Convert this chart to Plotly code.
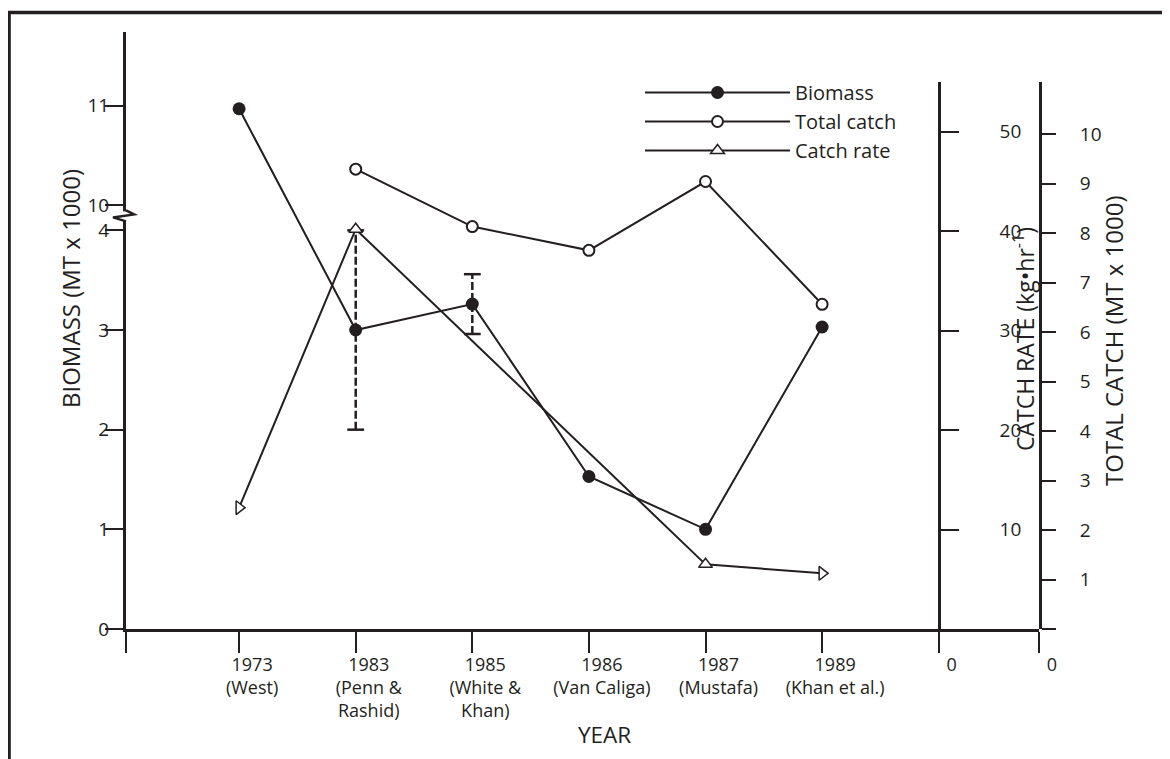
import plotly.graph_objects as go

# ---------------- data ----------------
years = ["1973<br>(West)", "1983<br>(Penn &<br>Rashid)", "1985<br>(White &<br>Khan)",
         "1986<br>(Van Caliga)", "1987<br>(Mustafa)", "1989<br>(Khan et al.)"]
biomass = [10.97, 3.0, 3.26, 1.53, 1.0, 3.03]          # MT x 1000
biomass_err = [None, 1.0, 0.3, None, None, None]       # +/- range
total_catch = [None, 9.29, 8.13, 7.65, 9.04, 6.56]     # MT x 1000
catch_rate = [12.2, 40.2, None, None, 6.5, 5.6]        # kg/hr

biomass_ticks = [0, 1, 2, 3, 4, 10, 11]
catch_rate_ticks = [10, 20, 30, 40, 50]
total_catch_ticks = list(range(0, 11))
total_catch_ticktext = [""] + [str(t) for t in range(1, 11)]

# broken biomass axis: values >= 10 are drawn shifted down
BREAK_AT = 10
BREAK_SHIFT = 5.75
def bio_y(v):
    return v - BREAK_SHIFT if v >= BREAK_AT else v

# ---------------- style ----------------
INK = "#231f20"
FONT = "Open Sans"

xs = list(range(1, len(years) + 1))
X0, X1 = 0.03, 7.86
CR_AXIS_X = 7.0

fig = go.Figure()

# error bars (dashed)
for x, v, e in zip(xs, biomass, biomass_err):
    if e is None:
        continue
    fig.add_trace(go.Scatter(
        x=[x, x], y=[bio_y(v - e), bio_y(v + e)], mode="lines+markers",
        line=dict(color=INK, width=2.5, dash="8px,3px"),
        marker=dict(symbol="line-ew-open", size=12, line=dict(color=INK, width=2.5)),
        showlegend=False, hoverinfo="skip"))

fig.add_trace(go.Scatter(
    x=xs, y=[bio_y(v) for v in biomass], name="Biomass", mode="lines+markers",
    line=dict(color=INK, width=2),
    marker=dict(symbol="circle", size=13, color=INK)))

fig.add_trace(go.Scatter(
    x=xs, y=total_catch, name="Total catch", mode="lines+markers", yaxis="y3",
    connectgaps=True, line=dict(color=INK, width=2),
    marker=dict(symbol="circle", size=11, color="white", line=dict(color=INK, width=2))))

# catch rate: upright triangles inside, arrow-like triangles at the two ends
cr_idx = [i for i, v in enumerate(catch_rate) if v is not None]
cr_ends = [cr_idx[0], cr_idx[-1]]
cr_inner = [i for i in cr_idx if i not in cr_ends]
fig.add_trace(go.Scatter(
    x=xs, y=catch_rate, name="Catch rate", mode="lines+markers", yaxis="y2",
    connectgaps=True, line=dict(color=INK, width=2),
    marker=dict(symbol="triangle-up", size=12, color="white",
                line=dict(color=INK, width=1.5)),
    selectedpoints=cr_inner,
    selected=dict(marker=dict(opacity=1)),
    unselected=dict(marker=dict(opacity=0))))
fig.add_trace(go.Scatter(
    x=[xs[i] for i in cr_ends], y=[catch_rate[i] for i in cr_ends], mode="markers",
    yaxis="y2", showlegend=False, hoverinfo="skip",
    marker=dict(symbol="triangle-up", size=12, color="white", angle=90,
                line=dict(color=INK, width=1.5))))

# geometry: reference plot area spans x 126..1039, y 32..629 (page has 8px body margin)
OFF = 8
REF_L, REF_R, REF_T, REF_B = 126, 1039, 32, 629
W, H = 1170, 759
L, T = REF_L - OFF, REF_T - OFF
R, B = W - (REF_R - OFF), H - (REF_B - OFF)
PW, PH = REF_R - REF_L, REF_B - REF_T
def px(xp): return (xp - REF_L) / PW
def py(yp): return (REF_B - yp) / PH

tick_font = dict(family=FONT, size=18, color=INK)
ytick_font = dict(family=FONT, size=19, color=INK)

fig.update_layout(
    width=W, height=H, margin=dict(l=L, r=R, t=T, b=B, autoexpand=False),
    paper_bgcolor="white", plot_bgcolor="rgba(0,0,0,0)",
    font=dict(family=FONT, color=INK),
    xaxis=dict(range=[X0, X1], tickmode="array",
               tickvals=[X0 + 0.001] + xs + [CR_AXIS_X, X1 - 0.001],
               ticktext=[""] + years + ["0", "0"],
               ticks="outside", ticklen=21, tickwidth=1.5, tickcolor=INK,
               showline=True, linewidth=3, linecolor=INK, showgrid=False, zeroline=False,
               tickfont=tick_font, ticklabelshift=13, ticklabelstandoff=-4, anchor="y"),
    yaxis=dict(range=[0, 5.99], tickmode="array",
               tickvals=[bio_y(t) for t in biomass_ticks],
               ticktext=[str(t) for t in biomass_ticks],
               ticks="outside", ticklen=18, tickwidth=1.5, tickcolor=INK,
               showline=True, linewidth=3, linecolor=INK, showgrid=False, zeroline=False,
               tickfont=ytick_font, ticklabelstandoff=-8),
    yaxis2=dict(domain=[0, py(82)], range=[0, 55], anchor="free",
                position=(CR_AXIS_X - X0) / (X1 - X0), side="right",
                tickmode="array", tickvals=catch_rate_ticks,
                ticks="outside", ticklen=18, tickwidth=2, tickcolor=INK,
                showline=True, linewidth=3, linecolor=INK, showgrid=False, zeroline=False,
                tickfont=ytick_font, ticklabelstandoff=37),
    yaxis3=dict(overlaying="y2", anchor="x", side="right", range=[0, (629 - 82) / 49.5],
                tickmode="array", tickvals=total_catch_ticks, ticktext=total_catch_ticktext,
                ticks="outside", ticklen=14, tickwidth=2, tickcolor=INK,
                showline=True, linewidth=3, linecolor=INK, showgrid=False, zeroline=False,
                tickfont=ytick_font, ticklabelstandoff=20),
    legend=dict(x=px(640), y=py(73), xanchor="left", yanchor="top", itemwidth=145,
                font=dict(family=FONT, size=20, color=INK), bgcolor="rgba(0,0,0,0)",
                traceorder="normal"),
    showlegend=True,
)

def title(text, x, y, size, angle=0):
    fig.add_annotation(text=text, xref="paper", yref="paper", x=px(x), y=py(y),
                       xanchor="center", yanchor="middle", textangle=angle,
                       showarrow=False, font=dict(family=FONT, size=size, color=INK))

title("BIOMASS (MT x 1000)", 70, 289, 24, -90)
title("CATCH RATE (kg•hr<sup>-1</sup>)", 1024, 339, 23, -90)
title("TOTAL CATCH (MT x 1000)", 1113, 341, 24, -90)
title("YEAR", 604, 734, 22.5)

# frame (top and left edges)
fig.add_shape(type="line", xref="paper", yref="paper", x0=px(7), x1=px(1185),
              y0=py(12.5), y1=py(12.5), line=dict(color=INK, width=3.5), layer="above")
fig.add_shape(type="line", xref="paper", yref="paper", x0=px(9.3), x1=px(9.3),
              y0=py(11), y1=py(770), line=dict(color=INK, width=3), layer="above")

# axis break mark on biomass axis (paper x so it is not clipped)
brk = 4.15
fig.add_shape(type="rect", xref="paper", yref="y", xsizemode="pixel", ysizemode="pixel",
              xanchor=0, yanchor=brk, x0=-3, x1=3, y0=-5, y1=4,
              fillcolor="white", line=dict(width=0), layer="above")
fig.add_shape(type="path", xref="paper", yref="y", xsizemode="pixel", ysizemode="pixel",
              xanchor=0, yanchor=brk, path="M0,5 L8,1 L-13,-2 L0,-6",
              line=dict(color=INK, width=2.5), layer="above")

fig.write_html("out.html")
